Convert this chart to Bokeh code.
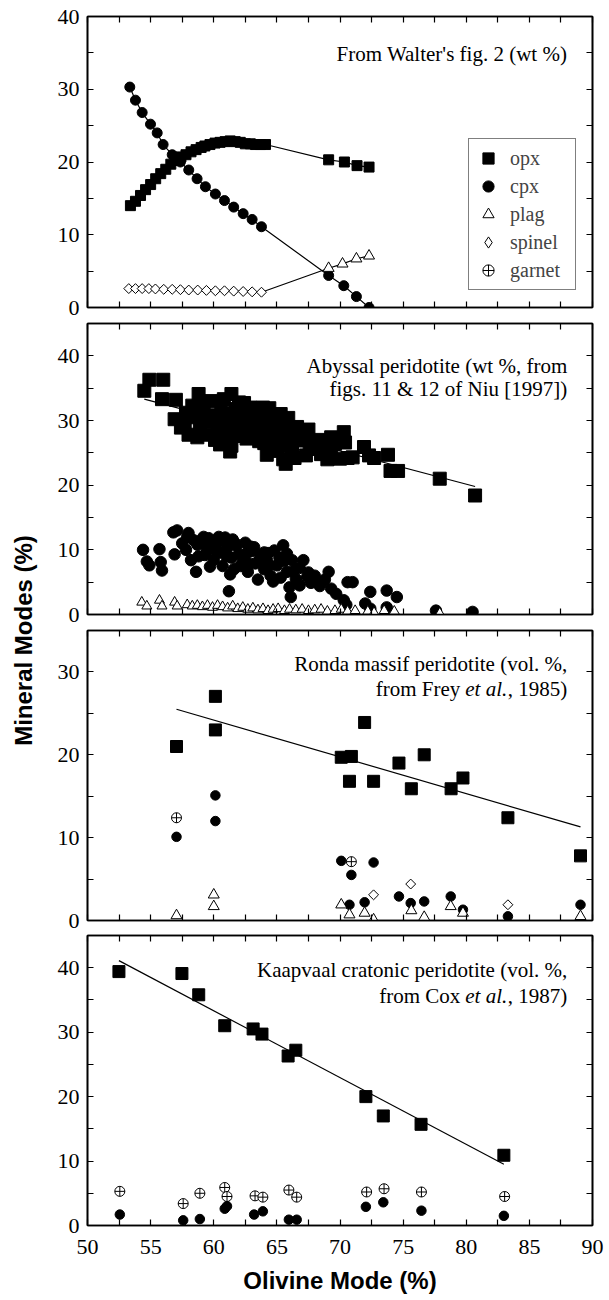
import math
from bokeh.plotting import figure
from bokeh.models import (FixedTicker, LinearAxis, Label, Legend, LegendItem, Range1d)
from bokeh.layouts import column, row
from bokeh.embed import file_html
from bokeh.resources import INLINE

SERIF = "Liberation Serif"
SANS = "Liberation Sans"
NAN = float("nan")

# ---------------- Panel 1: Walter's fig. 2 (wt %) ----------------
p1_opx_x = [53.4, 53.8, 54.2, 54.6, 55.0, 55.4, 55.8, 56.2, 56.6, 57.0, 57.4, 57.8, 58.2, 58.6,
            59.0, 59.3, 59.7, 60.1, 60.5, 60.9, 61.3, 61.7, 62.1, 62.5, 62.9, 63.3, 63.7, 64.1,
            69.1, 70.35, 71.35, 72.3]
p1_opx_y = [14.0, 14.6, 15.4, 16.2, 16.9, 17.7, 18.4, 19.0, 19.7, 20.2, 20.7, 21.0, 21.4, 21.7,
            22.0, 22.2, 22.4, 22.6, 22.7, 22.8, 22.9, 22.8, 22.7, 22.5, 22.5, 22.4, 22.4, 22.4,
            20.3, 20.0, 19.5, 19.3]
p1_cpx_x = [53.35, 53.8, 54.33, 54.99, 55.52, 55.99, 56.71, 57.36, 58.02, 58.68, 59.34, 60.13,
            60.85, 61.58, 62.33, 63.04, 63.78, 69.1, 70.3, 71.3, 72.3]
p1_cpx_y = [30.3, 28.5, 26.8, 25.2, 24.0, 22.4, 21.0, 20.0, 18.9, 17.7, 16.6, 15.6,
            14.7, 13.8, 12.9, 12.1, 11.1, 4.4, 3.0, 1.5, 0.0]
p1_spinel_x = [53.27, 53.8, 54.33, 54.86, 55.38, 56.04, 56.71, 57.36, 58.02, 58.73, 59.42,
               60.13, 60.85, 61.58, 62.33, 63.04, 63.78]
p1_spinel_y = [2.6, 2.6, 2.6, 2.6, 2.55, 2.5, 2.5, 2.45, 2.4, 2.4, 2.35, 2.3, 2.3, 2.25,
               2.2, 2.15, 2.1]
p1_plag_x = [69.1, 70.2, 71.3, 72.3]
p1_plag_y = [5.4, 6.0, 6.7, 7.1]
legend_labels = ["opx", "cpx", "plag", "spinel", "garnet"]

# ---------------- Panel 2: Abyssal peridotite ----------------
p2_opx_x = [54.5, 54.9, 56.0, 55.9, 57.0, 56.9, 57.4, 57.7, 58.3, 58.8, 59.2, 58.9, 59.5, 60.0,
            60.3, 60.6, 61.0, 61.4, 61.4, 61.6, 61.9, 62.2, 62.4, 62.6, 62.9, 63.1, 63.3, 63.6,
            63.8, 64.1, 64.3, 64.5, 64.7, 64.9, 65.1, 65.3, 65.5, 65.7, 65.9, 66.2, 66.4, 66.6,
            66.8, 67.0, 67.3, 67.6, 67.9, 68.3, 68.7, 69.0, 69.3, 69.6, 70.0, 70.3, 70.4, 70.6,
            71.0, 71.9, 72.3, 72.7, 73.8, 74.0, 74.6, 77.9, 80.7,
            59.8, 60.8, 61.2, 62.0, 63.9, 58.2, 59.4, 60.4, 62.7, 64.0, 65.8, 67.2, 58.7, 60.5,
            61.3, 64.2, 65.5,
            57.8, 58.0, 58.5, 59.0, 59.6, 60.1, 60.8, 61.0, 61.7, 62.0, 62.4, 62.9, 63.4, 63.5,
            64.4, 64.6, 65.0, 65.2, 65.9, 66.0, 66.5, 67.5, 68.0, 68.5, 69.3]
p2_opx_y = [34.6, 36.3, 36.3, 33.3, 33.2, 30.2, 28.9, 29.6, 32.3, 34.1, 31.5, 28.9, 27.8, 30.8,
            29.2, 32.6, 27.5, 34.1, 26.1, 30.0, 28.4, 31.6, 29.5, 27.2, 32.0, 30.4, 28.5, 26.8,
            31.2, 29.5, 27.8, 25.3, 30.3, 28.8, 27.0, 31.0, 29.2, 23.3, 27.8, 25.9, 24.2, 29.0,
            26.9, 28.2, 24.6, 26.5, 25.6, 27.0, 26.3, 24.0, 25.3, 26.4, 24.1, 28.2, 26.6, 24.2,
            24.3, 25.9, 24.6, 24.2, 24.7, 22.2, 22.2, 21.0, 18.4,
            33.0, 31.0, 29.0, 32.8, 32.0, 30.5, 29.8, 28.0, 30.5, 26.5, 26.0, 27.8, 27.4, 26.3,
            25.2, 24.7, 24.0,
            31.2, 27.8, 30.9, 32.8, 30.4, 27.0, 33.3, 30.0, 31.8, 27.6, 32.7, 28.9, 31.6, 29.8,
            31.9, 29.0, 25.8, 28.2, 30.4, 28.6, 27.6, 28.6, 26.4, 24.8, 27.4]
p2_cpx_x = [54.4, 54.7, 54.9, 55.7, 55.8, 55.9, 56.8, 57.1, 56.9, 57.9, 58.2, 58.6, 58.7, 59.0,
            59.3, 59.6, 59.8, 60.0, 60.2, 60.5, 60.7, 60.9, 61.1, 61.2, 61.4, 61.6, 61.8, 62.0,
            62.3, 62.5, 62.7, 63.0, 63.3, 63.5, 63.7, 64.0, 64.2, 64.5, 64.8, 65.0, 65.3, 65.5,
            65.6, 65.8, 66.0, 66.1, 66.2, 66.5, 66.8, 67.1, 67.4, 67.7, 68.0, 68.4, 68.8, 69.1,
            69.3, 69.7, 70.3, 70.6, 71.0, 70.5, 72.0, 72.4, 72.4, 73.7, 74.5, 73.7, 77.6, 80.5,
            58.4, 59.2, 60.4, 61.5, 62.9, 64.3,
            57.5, 57.8, 58.0, 58.8, 59.4, 59.7, 60.2, 60.6, 61.0, 61.3, 61.7, 62.1, 62.6, 62.8,
            63.2, 63.6, 64.0, 64.4, 64.7, 65.2, 65.8, 66.3, 66.8, 67.5, 68.2]
p2_cpx_y = [10.0, 8.2, 7.6, 10.1, 8.1, 6.8, 12.7, 13.0, 9.3, 12.0, 8.4, 6.6, 10.8, 11.5,
            9.2, 11.8, 10.2, 8.5, 11.0, 9.6, 7.5, 11.9, 10.4, 3.6, 8.8, 7.0, 10.6, 9.3,
            8.0, 11.1, 6.6, 9.8, 7.9, 5.4, 9.0, 7.0, 8.5, 6.0, 9.9, 7.6, 5.7, 10.7,
            8.3, 6.6, 4.2, 2.7, 8.4, 5.5, 4.5, 8.4, 5.8, 4.9, 6.0, 4.4, 5.4, 6.6,
            4.0, 3.2, 2.2, 5.0, 5.0, 1.5, 1.7, 3.5, 0.9, 3.7, 2.7, 1.1, 0.6, 0.4,
            11.5, 12.0, 12.0, 11.6, 10.5, 9.5,
            11.0, 10.0, 12.6, 9.0, 10.5, 7.4, 9.9, 11.4, 9.0, 6.2, 11.0, 7.5, 9.5, 7.9,
            10.4, 8.3, 9.6, 7.6, 5.1, 8.8, 9.4, 6.7, 7.2, 6.5, 5.0]
p2_plag_x = [54.3, 54.7, 55.7, 55.9, 56.9, 57.1, 57.9, 58.3, 58.7, 59.1, 59.5, 59.9, 60.3, 60.7,
             61.1, 61.5, 61.9, 62.3, 62.7, 63.1, 63.5, 63.9, 64.3, 64.7, 65.1, 65.6, 66.0, 66.5,
             67.0, 67.5, 68.0, 68.5, 69.0, 69.6, 70.1, 70.6, 71.2, 72.2, 72.7, 73.5, 74.3, 77.9]
p2_plag_y = [1.9, 1.3, 2.2, 1.3, 1.9, 1.3, 1.5, 1.3, 1.4, 1.2, 1.4, 1.1, 1.4, 1.2,
             1.0, 1.3, 0.9, 1.1, 0.8, 1.0, 0.7, 0.9, 0.6, 0.8, 0.9, 0.6, 0.8, 0.7,
             0.8, 0.6, 0.7, 0.8, 0.5, 0.6, 0.8, 0.5, 0.6, 0.5, 0.3, 0.6, 0.5, 0.2]
p2_fit_x = [54.5, 80.7]
p2_fit_y = [33.3, 19.8]

# ---------------- Panel 3: Ronda massif ----------------
p3_opx_x = [57.05, 60.13, 60.13, 70.1, 70.9, 70.75, 71.95, 72.66, 74.67, 75.65, 76.67, 78.8, 79.74, 83.3, 89.05]
p3_opx_y = [21.0, 27.05, 23.0, 19.7, 19.8, 16.8, 23.9, 16.8, 19.0, 15.9, 20.0, 15.9, 17.2, 12.4, 7.8]
p3_cpx_x = [57.05, 60.13, 60.13, 70.1, 70.9, 70.75, 71.95, 72.66, 74.67, 75.6, 76.67, 78.77, 79.74, 83.3, 89.05]
p3_cpx_y = [10.1, 15.1, 12.0, 7.2, 5.5, 1.9, 2.2, 7.0, 2.9, 2.1, 2.3, 2.9, 1.3, 0.5, 1.9]
p3_garnet_x = [57.05, 70.9]
p3_garnet_y = [12.4, 7.1]
p3_plag_x = [57.05, 60.0, 60.0, 70.1, 70.75, 71.95, 72.66, 75.65, 76.67, 78.77, 79.74, 89.05]
p3_plag_y = [0.6, 3.1, 1.7, 1.9, 0.7, 0.9, 0.1, 1.2, 0.4, 1.7, 0.9, 0.5]
p3_spinel_x = [72.66, 75.6, 83.3]
p3_spinel_y = [3.1, 4.4, 1.9]
p3_fit_x = [57.05, 89.05]
p3_fit_y = [25.5, 11.3]

# ---------------- Panel 4: Kaapvaal ----------------
p4_opx_x = [52.49, 57.48, 58.81, 60.87, 63.12, 63.82, 65.89, 66.5, 72.05, 73.43, 76.42, 82.98]
p4_opx_y = [39.4, 39.1, 35.8, 31.0, 30.5, 29.7, 26.3, 27.2, 20.0, 17.0, 15.7, 10.9]
p4_garnet_x = [52.56, 57.58, 58.9, 60.87, 61.05, 63.27, 63.89, 65.95, 66.57, 72.11, 73.49, 76.45, 83.04]
p4_garnet_y = [5.3, 3.4, 5.0, 5.9, 4.5, 4.6, 4.4, 5.5, 4.4, 5.2, 5.7, 5.2, 4.5]
p4_cpx_x = [52.56, 57.58, 58.9, 60.87, 61.05, 63.2, 63.89, 65.95, 66.57, 72.05, 73.43, 76.45, 82.98]
p4_cpx_y = [1.7, 0.8, 1.0, 2.6, 3.0, 1.7, 2.2, 0.9, 0.9, 2.9, 3.6, 2.3, 1.5]
p4_fit_x = [52.49, 82.98]
p4_fit_y = [41.1, 9.5]

x_range = (50, 90)
x_major = [50, 55, 60, 65, 70, 75, 80, 85, 90]
x_minor = [52.5, 57.5, 62.5, 67.5, 72.5, 77.5, 82.5, 87.5]
y_major = [0, 10, 20, 30, 40]
y_minor = [5, 15, 25, 35, 45]
panel_titles = [
    ["From Walter's fig. 2 (wt %)"],
    ["Abyssal peridotite (wt %, from", "figs. 11 & 12 of Niu [1997])"],
    ["Ronda massif peridotite (vol. %,", "from Frey", "et al.", ", 1985)"],
    ["Kaapvaal cratonic peridotite (vol. %,", "from Cox", "et al.", ", 1987)"],
]
TITLE_SIZE = "21px"


def make_panel(ymax, frame_h, top, bottom, show_x_labels):
    p = figure(frame_width=505, frame_height=frame_h,
               x_range=Range1d(*x_range), y_range=Range1d(0, ymax),
               output_backend="svg", toolbar_location=None,
               min_border_left=42, min_border_right=17,
               min_border_top=top, min_border_bottom=bottom,
               x_axis_location=None, y_axis_location=None)
    p.grid.visible = False
    p.outline_line_color = "black"
    p.outline_line_width = 1.6
    p.background_fill_color = "white"
    p.border_fill_color = "white"
    ym = [v for v in y_major if v <= ymax]
    yn = [v for v in y_minor if v <= ymax]
    for loc in ("below", "above", "left", "right"):
        labeled = (loc == "left") or (loc == "below" and show_x_labels)
        majors = x_major if loc in ("below", "above") else ym
        minors = x_minor if loc in ("below", "above") else yn
        if labeled:
            ax = LinearAxis(ticker=FixedTicker(ticks=majors, minor_ticks=minors))
            ax.major_label_text_font = SERIF
            ax.major_label_text_font_size = "22px"
            ax.major_label_text_color = "black"
            ax.major_label_standoff = 8 if loc == "left" else 14
        else:
            ax = LinearAxis(ticker=FixedTicker(ticks=[], minor_ticks=sorted(majors + minors)))
            ax.major_label_standoff = 0
        ax.major_tick_in = 6
        ax.major_tick_out = 0
        ax.minor_tick_in = 6
        ax.minor_tick_out = 0
        ax.axis_line_color = "black"
        ax.axis_line_width = 1.6
        ax.major_tick_line_color = "black"
        ax.minor_tick_line_color = "black"
        ax.major_tick_line_width = 1.2
        ax.minor_tick_line_width = 1.2
        p.add_layout(ax, loc)
    return p


def title_label(text, y, x_offset=0, style="normal"):
    return Label(x=88.0, y=y, x_offset=x_offset, text=text, text_align="right",
                 text_baseline="middle", text_font=SERIF, text_font_size=TITLE_SIZE,
                 text_font_style=style, text_color="black")


def add_title(p, lines, y_first, y_second=None):
    p.add_layout(title_label(lines[0], y_first))
    if len(lines) == 2:
        p.add_layout(title_label(lines[1], y_second))
    elif len(lines) == 4:
        p.add_layout(title_label(lines[3], y_second))
        p.add_layout(title_label(lines[2], y_second, x_offset=-60, style="italic"))
        p.add_layout(title_label(lines[1], y_second, x_offset=-107))


def opx(p, x, y, size):
    return p.scatter(x, y, marker="square", size=size, fill_color="black", line_color="black")


def cpx(p, x, y, size):
    return p.scatter(x, y, marker="circle", size=size, fill_color="black", line_color="black")


def plag(p, x, y, size):
    return p.scatter(x, y, marker="triangle", size=size, fill_color="white", line_color="black",
                     line_width=1)


def spinel(p, x, y, size):
    return p.scatter(x, y, marker="square", angle=math.pi / 4, size=size, fill_color="white",
                     line_color="black", line_width=1)


def garnet(p, x, y, size):
    return p.scatter(x, y, marker="circle_cross", size=size, fill_color="white",
                     line_color="black", line_width=1)


# Panel 1
p1 = make_panel(40, 291, 16, 14, False)
p1.line(p1_opx_x, p1_opx_y, line_color="black", line_width=1.2)
p1.line(p1_cpx_x, p1_cpx_y, line_color="black", line_width=1.2)
p1.line(p1_spinel_x + p1_plag_x, p1_spinel_y + p1_plag_y, line_color="black", line_width=1.2)
r_opx = opx(p1, p1_opx_x, p1_opx_y, 10)
r_cpx = cpx(p1, p1_cpx_x, p1_cpx_y, 10)
spinel(p1, p1_spinel_x, p1_spinel_y, 7)
r_plag = plag(p1, p1_plag_x, p1_plag_y, 11)
# legend-only glyphs (no visible points)
r_spinel_key = p1.scatter([NAN], [NAN], marker="diamond", size=13, fill_color="white",
                          line_color="black", line_width=1)
r_garnet_key = garnet(p1, [NAN], [NAN], 11)
legend = Legend(items=[LegendItem(label=legend_labels[0], renderers=[r_opx]),
                       LegendItem(label=legend_labels[1], renderers=[r_cpx]),
                       LegendItem(label=legend_labels[2], renderers=[r_plag]),
                       LegendItem(label=legend_labels[3], renderers=[r_spinel_key]),
                       LegendItem(label=legend_labels[4], renderers=[r_garnet_key])],
                location=(381, 17), margin=0, padding=5, spacing=0,
                label_height=28, glyph_height=28, glyph_width=28, label_standoff=8,
                label_width=60,
                label_text_font=SERIF, label_text_font_size="20px",
                border_line_color="black", border_line_width=1.2,
                background_fill_color="white", background_fill_alpha=1)
p1.add_layout(legend)
add_title(p1, panel_titles[0], 34.8)

# Panel 2
p2 = make_panel(45, 291, 2, 14, False)
p2.line(p2_fit_x, p2_fit_y, line_color="black", line_width=1.2)
opx(p2, p2_opx_x, p2_opx_y, 13)
cpx(p2, p2_cpx_x, p2_cpx_y, 11.5)
plag(p2, p2_plag_x, p2_plag_y, 10)
add_title(p2, panel_titles[1], 38.5, 34.9)

# Panel 3
p3 = make_panel(35, 290, 2, 13, False)
p3.line(p3_fit_x, p3_fit_y, line_color="black", line_width=1.2)
opx(p3, p3_opx_x, p3_opx_y, 12)
cpx(p3, p3_cpx_x, p3_cpx_y, 9.5)
garnet(p3, p3_garnet_x, p3_garnet_y, 10)
plag(p3, p3_plag_x, p3_plag_y, 11)
spinel(p3, p3_spinel_x, p3_spinel_y, 7)
add_title(p3, panel_titles[2], 31.0, 28.0)

# Panel 4
p4 = make_panel(45, 290, 2, 75, True)
p4.line(p4_fit_x, p4_fit_y, line_color="black", line_width=1.2)
opx(p4, p4_opx_x, p4_opx_y, 12)
garnet(p4, p4_garnet_x, p4_garnet_y, 10)
cpx(p4, p4_cpx_x, p4_cpx_y, 9.5)
add_title(p4, panel_titles[3], 39.7, 35.6)
xa = p4.below[0]
xa.axis_label = "Olivine Mode (%)"
xa.axis_label_text_font = SANS
xa.axis_label_text_font_style = "bold"
xa.axis_label_text_font_size = "24px"
xa.axis_label_text_color = "black"
xa.axis_label_standoff = 10

# Side label
lab = figure(width=45, height=1300, x_range=Range1d(0, 45), y_range=Range1d(0, 1300),
             output_backend="svg", toolbar_location=None, min_border=0,
             x_axis_location=None, y_axis_location=None)
lab.grid.visible = False
lab.outline_line_color = None
lab.add_layout(Label(x=23, y=660, x_units="screen", y_units="screen", text="Mineral Modes (%)",
                     angle=math.pi / 2, text_align="center", text_baseline="middle",
                     text_font=SANS, text_font_style="bold", text_font_size="24px",
                     text_color="black"))

layout = row(lab, column(p1, p2, p3, p4, spacing=0), spacing=0)
open("out.html", "w").write(file_html(layout, INLINE))
